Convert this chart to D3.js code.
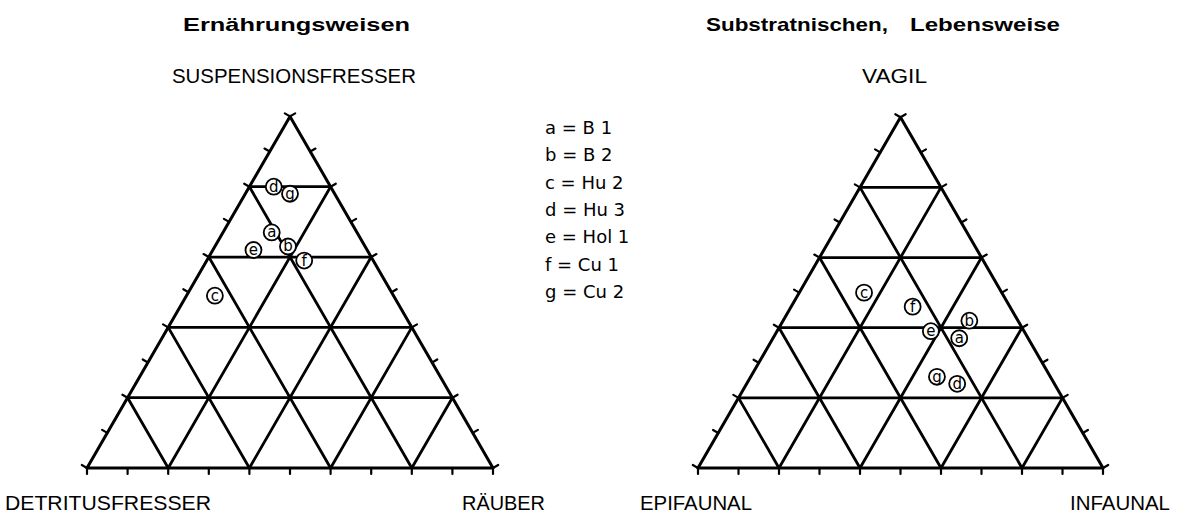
<!DOCTYPE html>
<html lang="de">
<head>
<meta charset="UTF-8">
<title>Ternärdiagramme</title>
<script src="https://d3js.org/d3.v7.min.js"></script>
<style>
  body { margin: 0; background: #fff; }
  svg text { font-family: "Liberation Sans", Arial, sans-serif; fill: #000; }
  .title { font-size: 19px; font-weight: bold; }
  .corner { font-size: 21px; }
  .legend { font-size: 18px; font-family: "DejaVu Sans", sans-serif; }
  .pt text { font-size: 15px; font-family: "DejaVu Sans", sans-serif; }
</style>
</head>
<body>
<div id="chart"></div>
<script>
// Probenpunkte
const codes = ["a", "b", "c", "d", "e", "f", "g"];
const legendText = ["a = B 1", "b = B 2", "c = Hu 2", "d = Hu 3", "e = Hol 1", "f = Cu 1", "g = Cu 2"];

// Ernährungsweisen (Anteile)
const suspension = [0.67, 0.63, 0.49, 0.80, 0.62, 0.59, 0.78];
const raeuber    = [0.12, 0.18, 0.07, 0.06, 0.10, 0.24, 0.11];
const detritus   = [0.21, 0.19, 0.44, 0.14, 0.28, 0.17, 0.11];

// Substratnischen / Lebensweise (Anteile)
const vagil      = [0.37, 0.42, 0.50, 0.24, 0.39, 0.46, 0.26];
const infaunal   = [0.46, 0.46, 0.16, 0.52, 0.38, 0.30, 0.46];
const epifaunal  = [0.17, 0.12, 0.34, 0.24, 0.23, 0.24, 0.28];

const gridSteps = [0.2, 0.4, 0.6, 0.8];
const tickSteps = d3.range(0, 11).map(i => i / 10);

const W = 1177, H = 516;
const svg = d3.select("#chart").append("svg")
    .attr("width", W).attr("height", H);

// Ein Dreieck zeichnen
function ternary(opt) {
    const sx = d3.scaleLinear().domain([0, 1]).range([opt.x0, opt.x1]);
    const sy = d3.scaleLinear().domain([0, 1]).range([opt.base, opt.base - (opt.x1 - opt.x0) * Math.sqrt(3) / 2]);
    // t = oben, r = rechts
    const P = (t, r) => [sx(r + t / 2), sy(t)];

    const g = svg.append("g");
    const line = (a, b) => g.append("line")
        .attr("x1", a[0]).attr("y1", a[1]).attr("x2", b[0]).attr("y2", b[1])
        .attr("stroke", "#000").attr("stroke-width", 2.8).attr("stroke-linecap", "round");

    // Gitter
    gridSteps.forEach(v => {
        line(P(v, 0), P(v, 1 - v));          // waagerecht
        line(P(0, v), P(1 - v, v));          // konstant rechts
        line(P(0, 1 - v), P(1 - v, 0));      // konstant links
    });
    // Rand
    g.append("path")
        .attr("d", d3.line()([P(0, 0), P(0, 1), P(1, 0)]) + "Z")
        .attr("fill", "none").attr("stroke", "#000").attr("stroke-width", 3)
        .attr("stroke-linejoin", "round");

    // Teilstriche
    const tl = 6;
    tickSteps.forEach(v => {
        const b = P(0, v);
        line(b, [b[0], b[1] + tl]).attr("stroke-width", 2.2);
        const l = P(v, 0);
        line(l, [l[0] - tl * 0.866, l[1] - tl * 0.5]).attr("stroke-width", 2.2);
        const r = P(v, 1 - v);
        line(r, [r[0] + tl * 0.866, r[1] - tl * 0.5]).attr("stroke-width", 2.2);
    });

    // Punkte
    codes.forEach((c, i) => {
        const p = P(opt.top[i], opt.right[i]);
        const pg = g.append("g").attr("class", "pt").attr("transform", `translate(${p[0]},${p[1]})`);
        pg.append("circle").attr("r", 8).attr("fill", "#fff")
            .attr("stroke", "#000").attr("stroke-width", 1.8);
        pg.append("text").attr("text-anchor", "middle").attr("dy", "0.33em").text(c);
    });
}

ternary({ x0: 87, x1: 493, base: 468, top: suspension, right: raeuber });
ternary({ x0: 698, x1: 1103, base: 468, top: vagil, right: infaunal });

// Beschriftungen
function label(x, y, txt, cls, len) {
    const t = svg.append("text").attr("class", cls).attr("x", x).attr("y", y).text(txt);
    if (len) t.attr("textLength", len).attr("lengthAdjust", "spacingAndGlyphs");
    return t;
}
label(183, 31, "Ernährungsweisen", "title", 227);
label(706, 31, "Substratnischen,", "title", 182);
label(910, 31, "Lebensweise", "title", 150);

label(172, 83, "SUSPENSIONSFRESSER", "corner", 244);
label(862, 83, "VAGIL", "corner", 65);
label(5, 510, "DETRITUSFRESSER", "corner", 206);
label(462, 510, "RÄUBER", "corner", 83);
label(640, 510, "EPIFAUNAL", "corner", 112);
label(1070, 510, "INFAUNAL", "corner", 100);

// Legende
legendText.forEach((d, i) => {
    svg.append("text").attr("class", "legend")
        .attr("x", 545).attr("y", 134 + i * 27.3).text(d);
});
</script>
</body>
</html>
